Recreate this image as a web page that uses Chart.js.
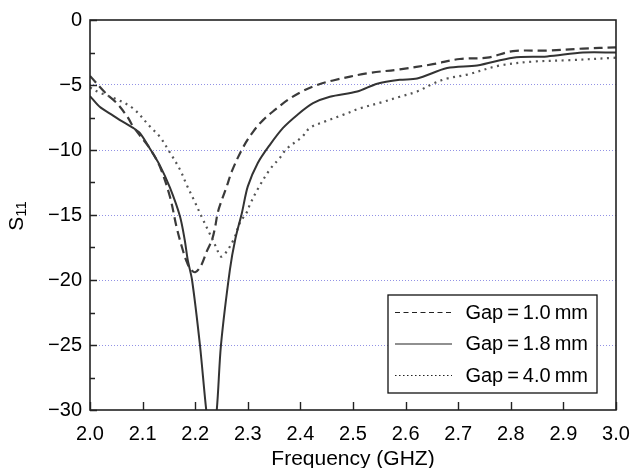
<!DOCTYPE html>
<html>
<head>
<meta charset="utf-8">
<script src="https://cdn.jsdelivr.net/npm/chart.js@4.4.1/dist/chart.umd.min.js"></script>
<style>
  html, body { margin: 0; padding: 0; background: #fff; }
  #wrap { width: 631px; height: 468px; }
</style>
</head>
<body>
<div id="wrap"><canvas id="chart" width="631" height="468"></canvas></div>
<script>
// S11 (frequency in GHz, S11 in dB)
const gap10Freq = [2.000, 2.029, 2.051, 2.072, 2.082, 2.114, 2.133, 2.152, 2.165, 2.175, 2.183, 2.190, 2.200, 2.211, 2.222, 2.232, 2.238, 2.243, 2.251, 2.260, 2.270, 2.291, 2.310, 2.329, 2.352, 2.376, 2.403, 2.432, 2.462, 2.527, 2.589, 2.652, 2.703, 2.755, 2.804, 2.869, 2.937, 3.000];
const gap10S11  = [-4.3, -5.6, -6.4, -7.5, -8.2, -9.9, -11.3, -13.6, -16.0, -17.5, -18.5, -19.1, -19.4, -18.9, -17.8, -16.9, -15.9, -14.8, -13.8, -12.8, -11.6, -9.8, -8.6, -7.7, -6.9, -6.15, -5.5, -5.0, -4.65, -4.1, -3.8, -3.4, -3.0, -2.9, -2.4, -2.35, -2.2, -2.1];

const gap18Freq = [2.000, 2.019, 2.038, 2.057, 2.082, 2.095, 2.114, 2.133, 2.152, 2.171, 2.180, 2.186, 2.194, 2.209, 2.221, 2.231, 2.241, 2.249, 2.266, 2.276, 2.289, 2.300, 2.319, 2.342, 2.367, 2.394, 2.424, 2.456, 2.508, 2.546, 2.589, 2.622, 2.679, 2.736, 2.804, 2.869, 2.937, 3.000];
const gap18S11  = [-5.85, -6.7, -7.2, -7.7, -8.3, -8.7, -9.9, -11.2, -12.9, -15.1, -16.9, -18.5, -20.0, -25.0, -30.0, -33.0, -30.0, -25.0, -19.2, -16.9, -14.8, -12.8, -11.0, -9.6, -8.3, -7.3, -6.4, -5.9, -5.5, -4.9, -4.6, -4.5, -3.7, -3.5, -2.9, -2.8, -2.5, -2.5];

const gap40Freq = [2.000, 2.019, 2.051, 2.082, 2.114, 2.133, 2.152, 2.171, 2.184, 2.197, 2.213, 2.226, 2.240, 2.249, 2.260, 2.274, 2.285, 2.298, 2.304, 2.319, 2.342, 2.361, 2.374, 2.403, 2.418, 2.447, 2.481, 2.513, 2.557, 2.589, 2.622, 2.652, 2.679, 2.717, 2.779, 2.842, 2.907, 3.000];
const gap40S11  = [-5.2, -5.6, -6.1, -6.8, -8.2, -9.0, -10.2, -11.5, -12.7, -13.8, -15.2, -16.3, -17.5, -18.2, -17.8, -16.8, -15.6, -14.8, -14.2, -13.0, -11.5, -10.6, -9.9, -9.0, -8.3, -7.8, -7.3, -6.8, -6.3, -5.9, -5.5, -4.9, -4.5, -4.2, -3.5, -3.2, -3.1, -2.9];

const seriesLabels = ['Gap\u2009=\u20091.0\u2009mm', 'Gap\u2009=\u20091.8\u2009mm', 'Gap\u2009=\u20094.0\u2009mm'];
const xTickValues = [2.0, 2.1, 2.2, 2.3, 2.4, 2.5, 2.6, 2.7, 2.8, 2.9, 3.0];
const yTickValues = [0, -5, -10, -15, -20, -25, -30];

const FONT = '"Liberation Sans", Arial, Helvetica, sans-serif';

function pairUp(xs, ys) {
    return xs.map((x, i) => ({ x: x, y: ys[i] }));
}

// inward ticks, frame and the S11 label
const framePlugin = {
    id: 'frame',
    afterDatasetsDraw(chart) {
        const ctx = chart.ctx;
        const a = chart.chartArea;
        const xs = chart.scales.x;
        const ys = chart.scales.y;
        ctx.save();
        ctx.strokeStyle = '#222';
        ctx.lineWidth = 1.6;
        ctx.strokeRect(a.left, a.top, a.right - a.left, a.bottom - a.top);

        ctx.lineWidth = 1.4;
        ctx.beginPath();
        xTickValues.forEach(v => {
            const px = Math.round(xs.getPixelForValue(v)) + 0.5;
            ctx.moveTo(px, a.bottom);
            ctx.lineTo(px, a.bottom - 8);
        });
        for (let v = 0; v >= -30; v -= 2.5) {
            const py = Math.round(ys.getPixelForValue(v)) + 0.5;
            ctx.moveTo(a.left, py);
            ctx.lineTo(a.left + (v % 5 === 0 ? 7 : 5), py);
        }
        ctx.stroke();

        // y axis title: S with subscript 11
        ctx.fillStyle = '#000';
        ctx.translate(23, (a.top + a.bottom) / 2 + 1);
        ctx.rotate(-Math.PI / 2);
        ctx.font = '21px ' + FONT;
        ctx.textBaseline = 'alphabetic';
        const sW = ctx.measureText('S').width;
        ctx.font = '15px ' + FONT;
        const subW = ctx.measureText('11').width;
        const start = -(sW + subW) / 2;
        ctx.font = '21px ' + FONT;
        ctx.fillText('S', start, 0);
        ctx.font = '15px ' + FONT;
        ctx.fillText('11', start + sW, 3);
        ctx.restore();
    }
};

// legend box inside the plot, lower right
const legendPlugin = {
    id: 'boxLegend',
    afterDraw(chart) {
        const ctx = chart.ctx;
        const a = chart.chartArea;
        const boxL = a.right - 228, boxR = a.right - 19;
        const boxT = a.bottom - 115, boxB = a.bottom - 17;
        ctx.save();
        ctx.fillStyle = '#fff';
        ctx.fillRect(boxL, boxT, boxR - boxL, boxB - boxT);
        ctx.strokeStyle = '#111';
        ctx.lineWidth = 1.3;
        ctx.strokeRect(boxL, boxT, boxR - boxL, boxB - boxT);
        const dashes = [[5, 3.5], [], [1.5, 2.5]];
        chart.data.datasets.forEach((ds, i) => {
            const y = boxT + 17 + i * 31.5;
            ctx.strokeStyle = '#222';
            ctx.lineWidth = 1.2;
            ctx.setLineDash(dashes[i]);
            ctx.beginPath();
            ctx.moveTo(boxL + 7, y + 0.5);
            ctx.lineTo(boxL + 64, y + 0.5);
            ctx.stroke();
            ctx.setLineDash([]);
            ctx.fillStyle = '#000';
            ctx.font = '20px ' + FONT;
            ctx.textBaseline = 'middle';
            ctx.textAlign = 'right';
            ctx.fillText(ds.label, boxR - 9, y + 1);
        });
        ctx.restore();
    }
};

const ctx = document.getElementById('chart').getContext('2d');
new Chart(ctx, {
    type: 'line',
    data: {
        datasets: [
            {
                label: seriesLabels[0],
                data: pairUp(gap10Freq, gap10S11),
                borderColor: '#3a3a3a',
                borderWidth: 2.2,
                borderDash: [9, 5],
                pointRadius: 0,
                tension: 0.35,
                clip: 0
            },
            {
                label: seriesLabels[1],
                data: pairUp(gap18Freq, gap18S11),
                borderColor: '#333',
                borderWidth: 2,
                pointRadius: 0,
                tension: 0.3,
                clip: 0
            },
            {
                label: seriesLabels[2],
                data: pairUp(gap40Freq, gap40S11),
                borderColor: '#555',
                borderWidth: 2.2,
                borderDash: [2, 4.5],
                pointRadius: 0,
                tension: 0.35,
                clip: 0
            }
        ]
    },
    options: {
        responsive: false,
        animation: false,
        layout: { padding: { top: 20, right: 15, left: 0, bottom: 0 } },
        plugins: {
            legend: { display: false },
            tooltip: { enabled: false }
        },
        scales: {
            x: {
                type: 'linear',
                min: 2.0,
                max: 3.0,
                afterFit(scale) {
                    scale.height = 58;
                    scale.paddingLeft = 0;
                    scale.paddingRight = 0;
                },
                afterBuildTicks(scale) { scale.ticks = xTickValues.map(v => ({ value: v })); },
                grid: { display: false },
                border: { display: false },
                ticks: {
                    color: '#000',
                    padding: 4,
                    maxRotation: 0,
                    font: { family: FONT, size: 20 },
                    callback: v => Number(v).toFixed(1)
                },
                title: {
                    display: true,
                    text: 'Frequency (GHZ)',
                    color: '#000',
                    font: { family: FONT, size: 21, lineHeight: 1 },
                    padding: { top: 0, bottom: -2 }
                }
            },
            y: {
                min: -30,
                max: 0,
                afterFit(scale) { scale.width = 90; },
                afterBuildTicks(scale) { scale.ticks = yTickValues.map(v => ({ value: v })); },
                grid: {
                    drawTicks: false,
                    color: ctx => (ctx.tick && (ctx.tick.value === 0 || ctx.tick.value === -30)) ? 'rgba(0,0,0,0)' : 'rgba(110,110,220,0.75)',
                    lineWidth: 1
                },
                border: { display: false, dash: [1, 2] },
                ticks: {
                    color: '#000',
                    padding: 8,
                    font: { family: FONT, size: 20 },
                    callback: v => (v < 0 ? '\u2212' + Math.abs(v) : String(v))
                }
            }
        }
    },
    plugins: [framePlugin, legendPlugin]
});
</script>
</body>
</html>
